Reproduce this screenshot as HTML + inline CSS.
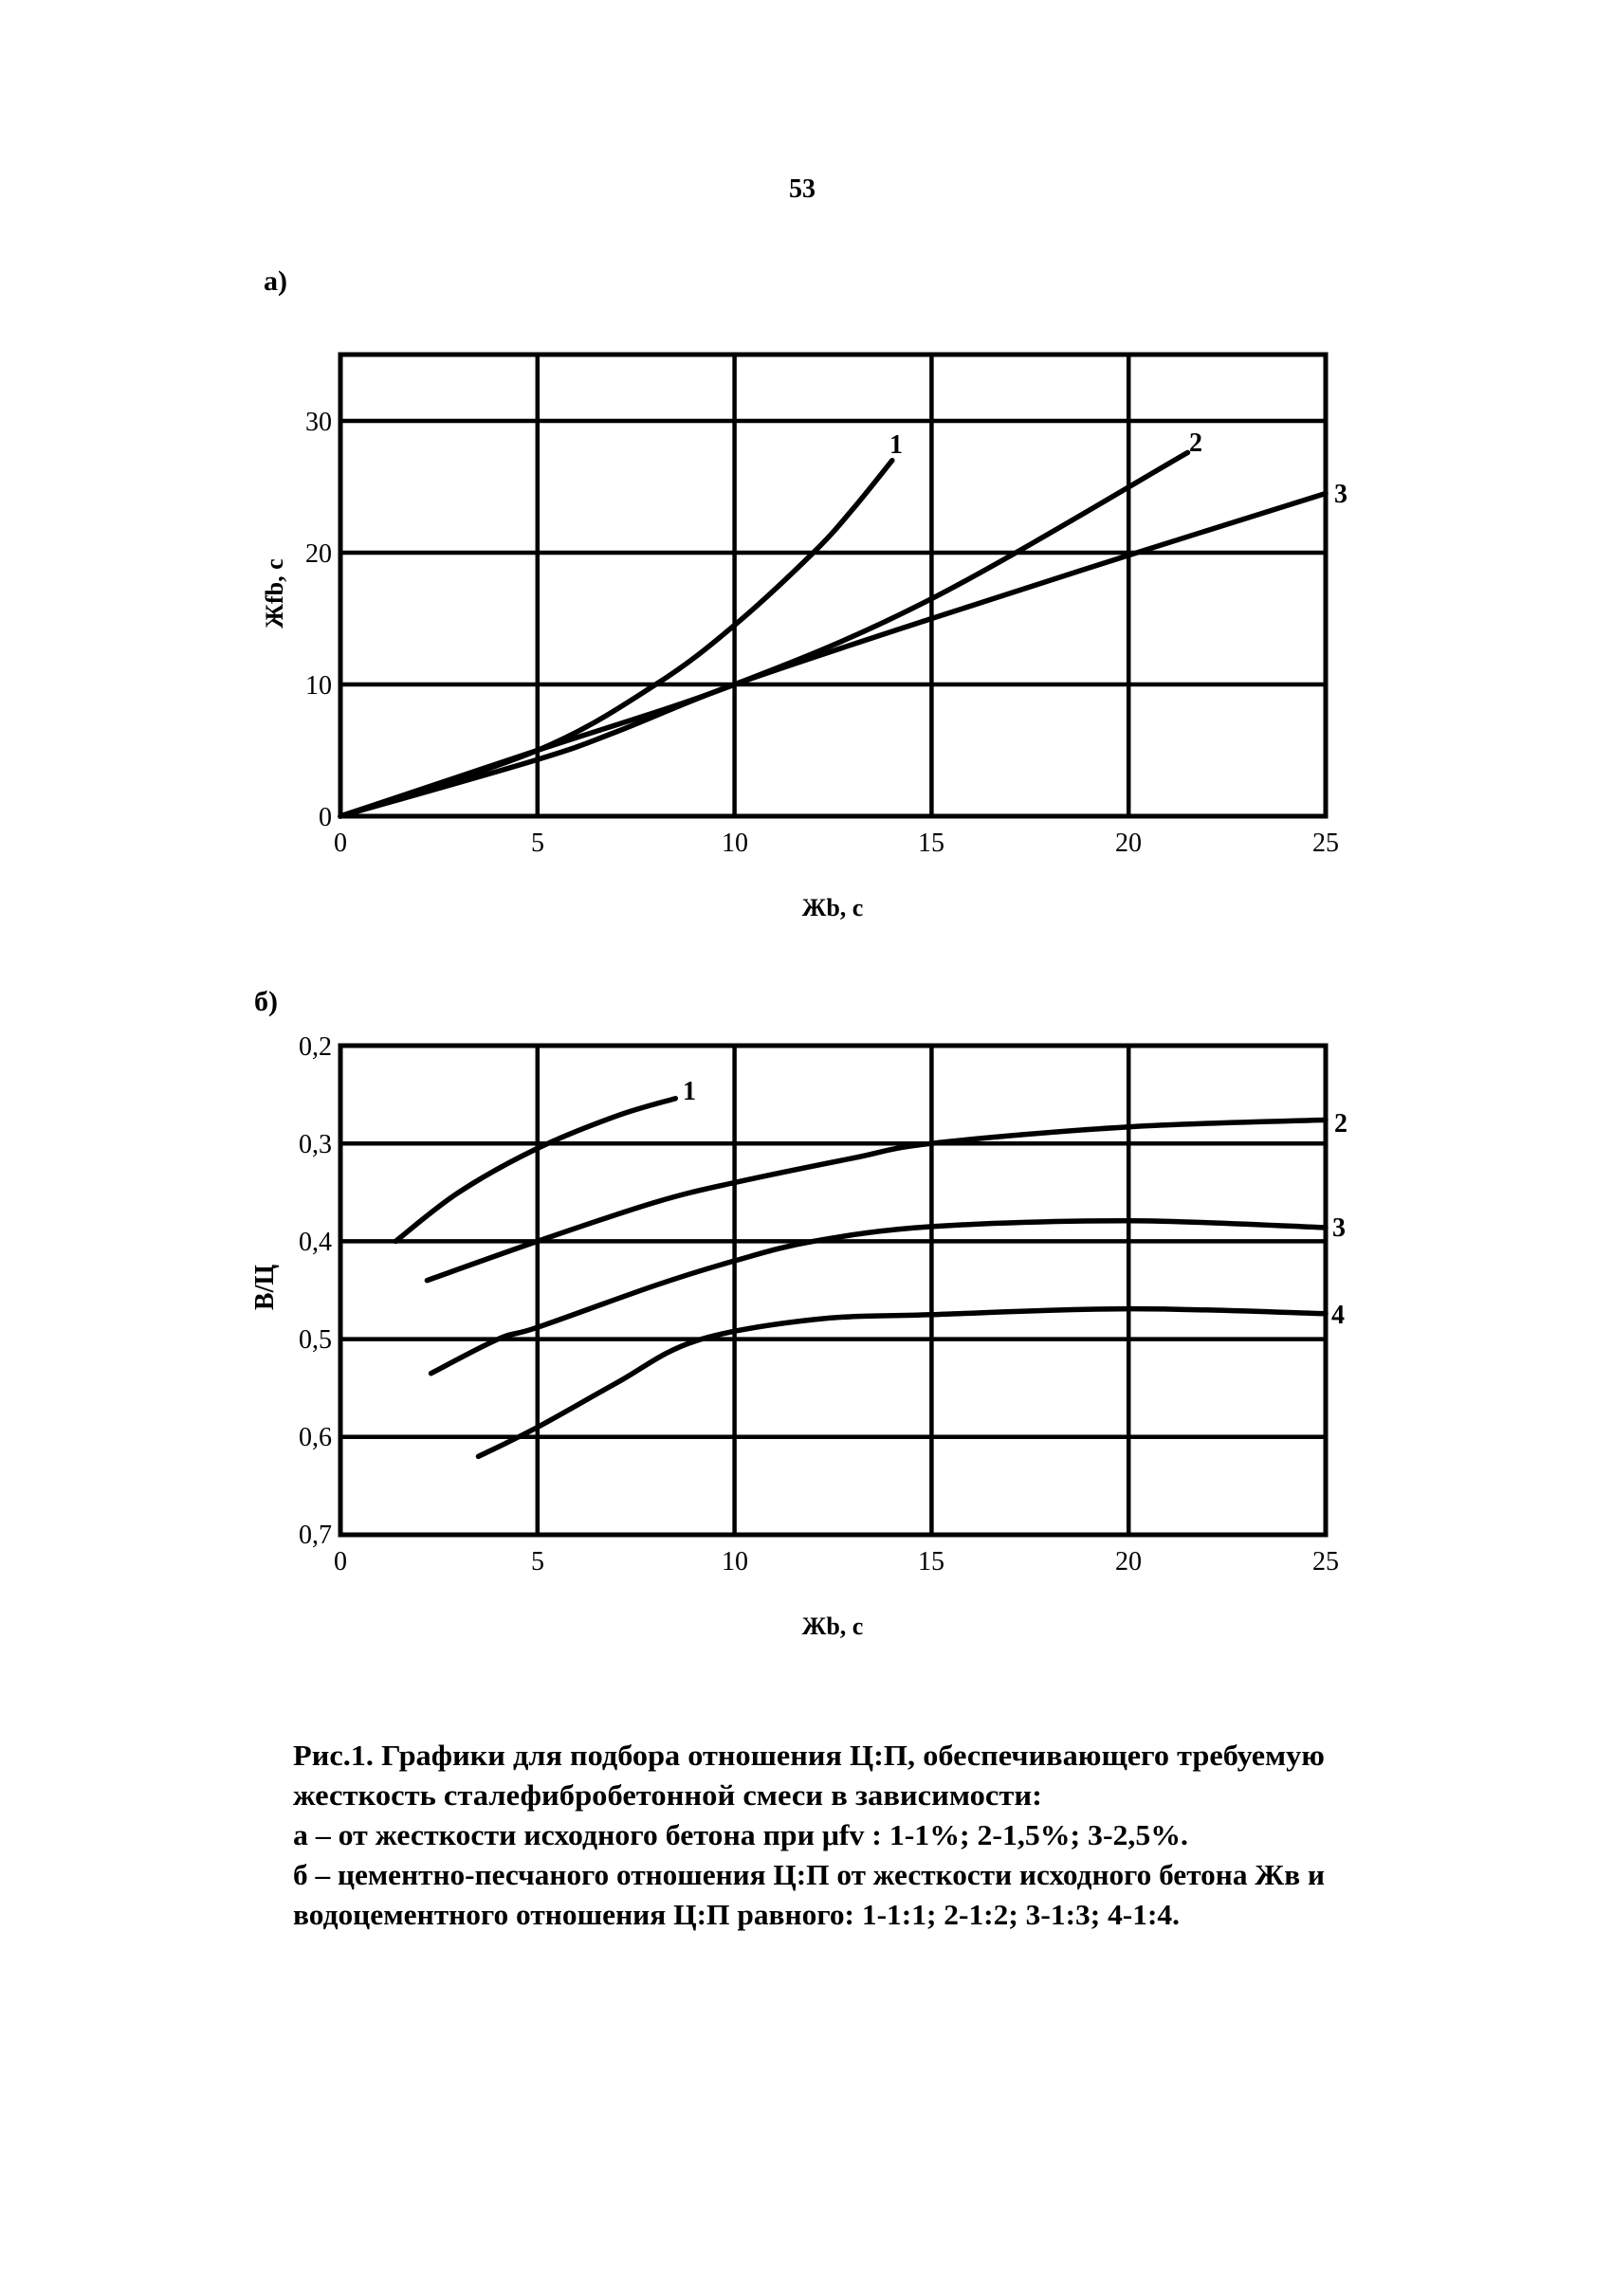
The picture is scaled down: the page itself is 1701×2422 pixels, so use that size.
<!DOCTYPE html>
<html><head><meta charset="utf-8"><style>
html,body{margin:0;padding:0;background:#fff;}
svg{display:block;}
text{font-family:"Liberation Serif",serif;fill:#000;}
</style></head><body>
<svg id="s" width="1701" height="2422" viewBox="0 0 1701 2422" xmlns="http://www.w3.org/2000/svg">
<rect width="1701" height="2422" fill="#fff"/>
<text x="846" y="208" font-size="28" font-weight="bold" text-anchor="middle">53</text>
<text x="278" y="306" font-size="30" font-weight="bold">а)</text>
<text x="268" y="1066" font-size="30" font-weight="bold">б)</text>
<g id="ga" stroke="#000" fill="none"></g>
<g id="gb" stroke="#000" fill="none"></g>
<g font-size="28">
<text x="350" y="454" text-anchor="end">30</text>
<text x="350" y="593" text-anchor="end">20</text>
<text x="350" y="732" text-anchor="end">10</text>
<text x="350" y="871" text-anchor="end">0</text>
<text x="359" y="898" text-anchor="middle">0</text>
<text x="567" y="898" text-anchor="middle">5</text>
<text x="775" y="898" text-anchor="middle">10</text>
<text x="982" y="898" text-anchor="middle">15</text>
<text x="1190" y="898" text-anchor="middle">20</text>
<text x="1398" y="898" text-anchor="middle">25</text>
<text x="938" y="478" font-weight="bold">1</text>
<text x="1254" y="476" font-weight="bold">2</text>
<text x="1407" y="530" font-weight="bold">3</text>
<text transform="translate(298,626) rotate(-90)" text-anchor="middle" font-size="26" font-weight="bold">Жfb, c</text>
<text x="878" y="966" text-anchor="middle" font-size="26" font-weight="bold">Жb, c</text>

<text x="350" y="1113" text-anchor="end">0,2</text>
<text x="350" y="1216" text-anchor="end">0,3</text>
<text x="350" y="1319" text-anchor="end">0,4</text>
<text x="350" y="1422" text-anchor="end">0,5</text>
<text x="350" y="1525" text-anchor="end">0,6</text>
<text x="350" y="1628" text-anchor="end">0,7</text>
<text x="359" y="1656" text-anchor="middle">0</text>
<text x="567" y="1656" text-anchor="middle">5</text>
<text x="775" y="1656" text-anchor="middle">10</text>
<text x="982" y="1656" text-anchor="middle">15</text>
<text x="1190" y="1656" text-anchor="middle">20</text>
<text x="1398" y="1656" text-anchor="middle">25</text>
<text x="720" y="1160" font-weight="bold">1</text>
<text x="1407" y="1194" font-weight="bold">2</text>
<text x="1405" y="1304" font-weight="bold">3</text>
<text x="1404" y="1396" font-weight="bold">4</text>
<text transform="translate(288,1358) rotate(-90)" text-anchor="middle" font-size="28" font-weight="bold">В/Ц</text>
<text x="878" y="1724" text-anchor="middle" font-size="26" font-weight="bold">Жb, c</text>
</g>
<g font-size="31" font-weight="bold">
<text x="309" y="1862" textLength="1088" lengthAdjust="spacingAndGlyphs">Рис.1. Графики для подбора отношения Ц:П, обеспечивающего требуемую</text>
<text x="309" y="1904" textLength="790" lengthAdjust="spacingAndGlyphs">жесткость сталефибробетонной смеси в зависимости:</text>
<text x="309" y="1946" textLength="944" lengthAdjust="spacingAndGlyphs">а – от жесткости исходного бетона при μfv : 1-1%; 2-1,5%; 3-2,5%.</text>
<text x="309" y="1988" textLength="1088" lengthAdjust="spacingAndGlyphs">б – цементно-песчаного отношения Ц:П от жесткости исходного бетона Жв и</text>
<text x="309" y="2030" textLength="935" lengthAdjust="spacingAndGlyphs">водоцементного отношения Ц:П равного: 1-1:1; 2-1:2;  3-1:3; 4-1:4.</text>
</g>
</svg>
<script>
var NS="http://www.w3.org/2000/svg";
function el(g,t,a){var e=document.createElementNS(NS,t);for(var k in a)e.setAttribute(k,a[k]);g.appendChild(e);return e;}
function cat(pts){var d="M"+pts[0][0].toFixed(1)+","+pts[0][1].toFixed(1);
 for(var i=0;i<pts.length-1;i++){var p0=pts[i-1]||pts[i],p1=pts[i],p2=pts[i+1],p3=pts[i+2]||p2;
 var c1=[p1[0]+(p2[0]-p0[0])/6,p1[1]+(p2[1]-p0[1])/6],c2=[p2[0]-(p3[0]-p1[0])/6,p2[1]-(p3[1]-p1[1])/6];
 d+=" C"+c1[0].toFixed(1)+","+c1[1].toFixed(1)+" "+c2[0].toFixed(1)+","+c2[1].toFixed(1)+" "+p2[0].toFixed(1)+","+p2[1].toFixed(1);}
 return d;}
var X0=359,X1=1398;function X(v){return X0+(X1-X0)*v/25;}
var ga=document.getElementById("ga");
function YA(v){return 861-13.9*v;}
el(ga,"rect",{x:X0,y:374,width:X1-X0,height:861-374,"stroke-width":5});
[5,10,15,20].forEach(function(v){el(ga,"line",{x1:X(v),y1:374,x2:X(v),y2:861,"stroke-width":4.5});});
[10,20,30].forEach(function(v){el(ga,"line",{x1:X0,y1:YA(v),x2:X1,y2:YA(v),"stroke-width":4.5});});
var ca=[[[0,0],[5,5],[8,10],[10,14.5],[12,20],[13,23.3],[14,27]],
[[0,0],[5,5],[10,10],[15,16.5],[21.5,27.6]],
[[0,0],[5,4.3],[7,6.4],[10,10],[15,15],[20,19.8],[25,24.5]]];
ca.forEach(function(c){el(ga,"path",{d:cat(c.map(function(p){return [X(p[0]),YA(p[1])];})),"stroke-width":5.5,"stroke-linecap":"round"});});
var gb=document.getElementById("gb");
function YB(v){return 1103+(v-0.2)*1032;}
el(gb,"rect",{x:X0,y:1103,width:X1-X0,height:1619-1103,"stroke-width":5});
[5,10,15,20].forEach(function(v){el(gb,"line",{x1:X(v),y1:1103,x2:X(v),y2:1619,"stroke-width":4.5});});
[0.3,0.4,0.5,0.6].forEach(function(v){el(gb,"line",{x1:X0,y1:YB(v),x2:X1,y2:YB(v),"stroke-width":4.5});});
var cb=[[[1.4,0.40],[3,0.35],[5,0.305],[7,0.272],[8.5,0.254]],
[[2.2,0.44],[5,0.40],[8,0.36],[10,0.34],[13,0.315],[15,0.30],[20,0.283],[25,0.276]],
[[2.3,0.535],[4,0.50],[5,0.488],[8,0.445],[10,0.42],[12,0.40],[15,0.385],[20,0.379],[25,0.386]],
[[3.5,0.62],[5,0.59],[7,0.545],[9,0.502],[12,0.48],[15,0.475],[20,0.469],[25,0.474]]];
cb.forEach(function(c){el(gb,"path",{d:cat(c.map(function(p){return [X(p[0]),YB(p[1])];})),"stroke-width":5.5,"stroke-linecap":"round"});});
</script>
</body></html>
